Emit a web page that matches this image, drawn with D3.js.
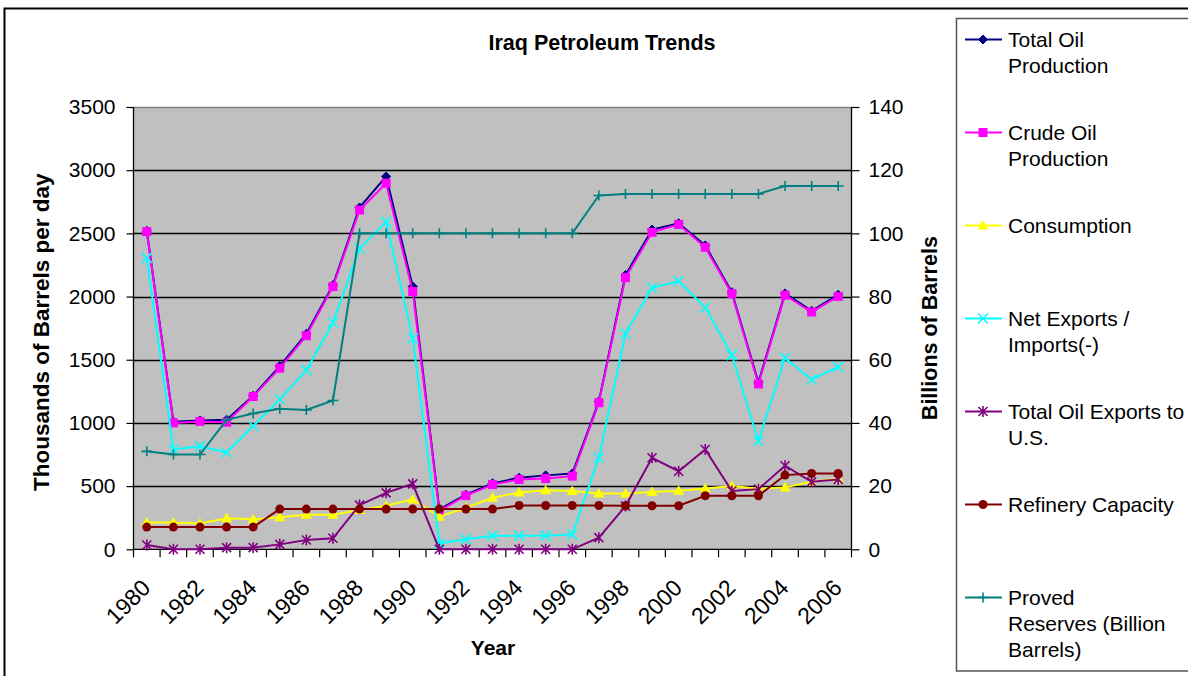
<!DOCTYPE html>
<html>
<head>
<meta charset="utf-8">
<script src="https://cdn.jsdelivr.net/npm/d3@7"></script>
<style>
  html, body { margin: 0; padding: 0; background: #fff; }
  svg { display: block; font-family: "Liberation Sans", Arial, sans-serif; }
</style>
</head>
<body>
<svg id="chart" width="1188" height="676"></svg>
<script>
// Iraq petroleum series, 1980-2006 (thousand barrels/day unless noted)
const years = d3.range(1980, 2007);
const yearLabels = d3.range(1980, 2007, 2);

const totalOil = [2520, 1010, 1020, 1025, 1215, 1450, 1705, 2090, 2705, 2950, 2080, 315, 432, 522, 566, 585, 600, 1170, 2170, 2530, 2580, 2405, 2035, 1320, 2025, 1887, 2015];
const crudeOil = [2514, 1000, 1012, 1005, 1209, 1433, 1690, 2079, 2685, 2897, 2040, 305, 425, 512, 553, 560, 579, 1160, 2150, 2508, 2571, 2390, 2023, 1308, 2011, 1878, 2001];
const consumption = [213, 213, 205, 245, 237, 253, 274, 274, 310, 345, 395, 258, 329, 408, 450, 468, 461, 442, 442, 453, 463, 482, 500, 480, 490, 534, 561];
const netExports = [2306, 790, 816, 766, 976, 1186, 1418, 1795, 2380, 2591, 1668, 47, 79, 108, 108, 108, 118, 724, 1708, 2069, 2122, 1913, 1537, 857, 1515, 1344, 1444];
const exportsUS = [34, 0, 0, 13, 13, 39, 74, 87, 350, 447, 518, 0, 0, 0, 0, 0, 0, 92, 342, 724, 618, 790, 461, 476, 661, 534, 553];
const refinery = [176, 176, 176, 176, 176, 318, 318, 318, 318, 318, 318, 318, 318, 318, 347, 347, 347, 347, 345, 345, 345, 424, 424, 424, 587, 600, 600];
// billions of barrels (right axis)
const reserves = [31, 30, 30, 41, 43, 44.5, 44.1, 47.1, 100, 100, 100, 100, 100, 100, 100, 100, 100, 112, 112.5, 112.5, 112.5, 112.5, 112.5, 112.5, 115, 115, 115];

const leftTicks = [0, 500, 1000, 1500, 2000, 2500, 3000, 3500];
const rightTicks = [0, 20, 40, 60, 80, 100, 120, 140];

const series = [
  { lines: ["Total Oil", "Production"], values: totalOil, color: "#000080", marker: "diamond", axis: "left" },
  { lines: ["Crude Oil", "Production"], values: crudeOil, color: "#FF00FF", marker: "square", axis: "left" },
  { lines: ["Consumption"], values: consumption, color: "#FFFF00", marker: "triangle", axis: "left" },
  { lines: ["Net Exports /", "Imports(-)"], values: netExports, color: "#00FFFF", marker: "x", axis: "left" },
  { lines: ["Total Oil Exports to", "U.S."], values: exportsUS, color: "#800080", marker: "star", axis: "left" },
  { lines: ["Refinery Capacity"], values: refinery, color: "#800000", marker: "circle", axis: "left" },
  { lines: ["Proved", "Reserves (Billion", "Barrels)"], values: reserves, color: "#008080", marker: "plus", axis: "right" }
];

const svg = d3.select("#chart");
const plot = { left: 133.5, right: 851.5, top: 107, bottom: 549.3 };

const x = d3.scaleBand().domain(years).range([plot.left, plot.right]);
const yL = d3.scaleLinear().domain([0, 3500]).range([plot.bottom, plot.top]);
const yR = d3.scaleLinear().domain([0, 140]).range([plot.bottom, plot.top]);
const cx = yr => x(yr) + x.bandwidth() / 2;

// outer chart frame
svg.append("rect").attr("x", 4.5).attr("y", 8.5).attr("width", 1200).attr("height", 700)
  .attr("fill", "#fff").attr("stroke", "#000").attr("stroke-width", 2);

// title
svg.append("text").attr("x", 602).attr("y", 50).attr("text-anchor", "middle")
  .attr("font-weight", "bold").attr("font-size", 21.5).text("Iraq Petroleum Trends");

// plot background
svg.append("rect").attr("x", plot.left).attr("y", plot.top)
  .attr("width", plot.right - plot.left).attr("height", plot.bottom - plot.top)
  .attr("fill", "#C0C0C0");

// gridlines
svg.append("g").selectAll("line").data(leftTicks.filter(v => v > 0)).join("line")
  .attr("x1", plot.left).attr("x2", plot.right)
  .attr("y1", d => Math.round(yL(d)) + 0.5).attr("y2", d => Math.round(yL(d)) + 0.5)
  .attr("stroke", d => d === 3500 ? "#808080" : "#000").attr("stroke-width", 1.3);

// left axis
const leftAxis = svg.append("g").attr("transform", `translate(${plot.left},0)`)
  .call(d3.axisLeft(yL).tickValues(leftTicks).tickSize(7).tickPadding(11).tickFormat(d3.format("d")));
// right axis
const rightAxis = svg.append("g").attr("transform", `translate(${plot.right},0)`)
  .call(d3.axisRight(yR).tickValues(rightTicks).tickSize(8).tickPadding(9).tickFormat(d3.format("d")));
// bottom axis: ticks at category boundaries
const xEdges = years.map(yr => x(yr)).concat([plot.right]);
const bottomAxis = svg.append("g").attr("transform", `translate(0,${plot.bottom})`);
bottomAxis.append("line").attr("x1", plot.left).attr("x2", plot.right).attr("stroke", "#000").attr("stroke-width", 1.3);
bottomAxis.selectAll("line.tk").data(xEdges).join("line").attr("class", "tk")
  .attr("x1", d => d).attr("x2", d => d).attr("y1", 0).attr("y2", 8)
  .attr("stroke", "#000").attr("stroke-width", 1.2);
bottomAxis.selectAll("text").data(yearLabels).join("text")
  .attr("transform", d => `translate(${cx(d) + 5},${40}) rotate(-45)`)
  .attr("text-anchor", "end").attr("font-size", 23).text(d => d);

[leftAxis, rightAxis].forEach(g => {
  g.select(".domain").attr("stroke", "#000").attr("stroke-width", 1.3);
  g.selectAll(".tick line").attr("stroke", "#000").attr("stroke-width", 1.2);
  g.selectAll(".tick text").attr("font-size", 21).attr("fill", "#000")
    .attr("font-family", "'Liberation Sans', Arial, sans-serif");
});
leftAxis.select(".domain").attr("d", `M0,${plot.top}V${plot.bottom}`);
rightAxis.select(".domain").attr("d", `M0,${plot.top}V${plot.bottom}`);

// axis titles
svg.append("text").attr("transform", `translate(49,${(plot.top + plot.bottom) / 2 + 4}) rotate(-90)`)
  .attr("text-anchor", "middle").attr("font-weight", "bold").attr("font-size", 22.5)
  .text("Thousands of Barrels per day");
svg.append("text").attr("transform", `translate(937,${(plot.top + plot.bottom) / 2}) rotate(-90)`)
  .attr("text-anchor", "middle").attr("font-weight", "bold").attr("font-size", 21.5)
  .text("Billions of Barrels");
svg.append("text").attr("x", 493).attr("y", 655).attr("text-anchor", "middle")
  .attr("font-weight", "bold").attr("font-size", 21).text("Year");

// marker drawing
function drawMarker(g, type, color) {
  switch (type) {
    case "diamond":
      g.append("path").attr("d", "M0,-4.5L4.5,0L0,4.5L-4.5,0Z").attr("fill", color).attr("stroke", color);
      break;
    case "square":
      g.append("rect").attr("x", -4.5).attr("y", -4.5).attr("width", 9).attr("height", 9).attr("fill", color);
      break;
    case "triangle":
      g.append("path").attr("d", "M0,-5.5L5.5,4L-5.5,4Z").attr("fill", color);
      break;
    case "x":
      g.append("path").attr("d", "M-5,-5L5,5M-5,5L5,-5").attr("stroke", color).attr("stroke-width", 1.6);
      break;
    case "star":
      g.append("path").attr("d", "M-4.5,-4.5L4.5,4.5M-4.5,4.5L4.5,-4.5M0,-5.5V5.5").attr("stroke", color).attr("stroke-width", 1.6);
      break;
    case "circle":
      g.append("circle").attr("r", 4.5).attr("fill", color);
      break;
    case "plus":
      g.append("path").attr("d", "M-5.5,0H5.5M0,-5V5").attr("stroke", color).attr("stroke-width", 1.6);
      break;
  }
}

// series lines and markers
series.forEach(s => {
  const yScale = s.axis === "right" ? yR : yL;
  const line = d3.line().x((d, i) => cx(years[i])).y(d => yScale(d));
  svg.append("path").datum(s.values).attr("d", line)
    .attr("fill", "none").attr("stroke", s.color).attr("stroke-width", 2);
  const mg = svg.append("g");
  s.values.forEach((v, i) => {
    const g = mg.append("g").attr("transform", `translate(${cx(years[i])},${yScale(v)})`);
    drawMarker(g, s.marker, s.color);
  });
});

// legend
const legend = svg.append("g");
legend.append("rect").attr("x", 956.5).attr("y", 18.5).attr("width", 260).attr("height", 652.5)
  .attr("fill", "#fff").attr("stroke", "#555").attr("stroke-width", 1.5);
series.forEach((s, i) => {
  const yc = 39.5 + i * 93;
  legend.append("line").attr("x1", 965).attr("x2", 1002).attr("y1", yc).attr("y2", yc)
    .attr("stroke", s.color).attr("stroke-width", 2);
  const g = legend.append("g").attr("transform", `translate(983,${yc})`);
  drawMarker(g, s.marker, s.color);
  s.lines.forEach((t, j) => {
    legend.append("text").attr("x", 1008).attr("y", yc + 7.5 + j * 26)
      .attr("font-size", 21).text(t);
  });
});
</script>
</body>
</html>
